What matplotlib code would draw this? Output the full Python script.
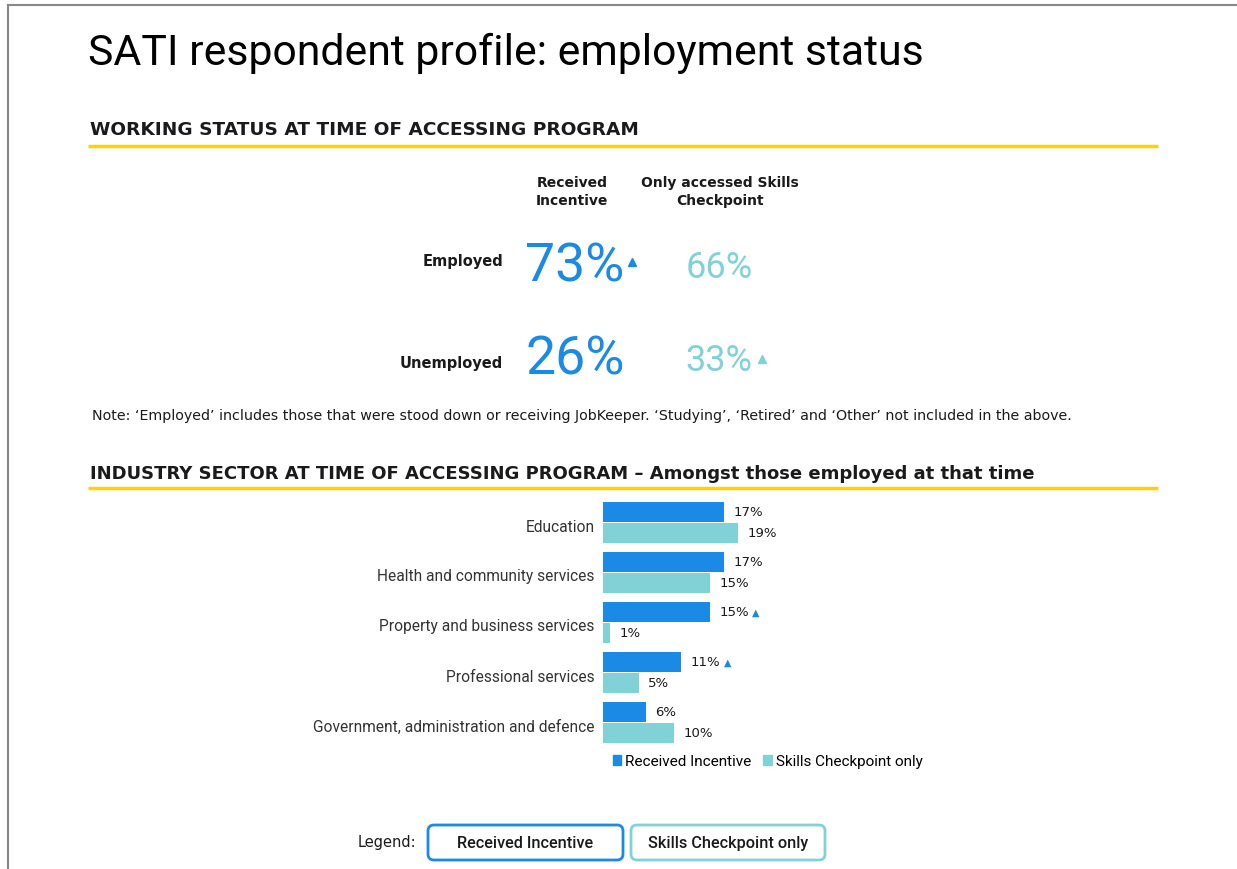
import matplotlib
matplotlib.use("Agg")
import matplotlib.pyplot as plt
from matplotlib.patches import FancyBboxPatch, Rectangle

plt.rcParams["font.family"] = ["Roboto", "DejaVu Sans"]

BLUE = "#1a8ae6"
TEAL = "#80d2d6"
YELLOW = "#ffd200"
INK = "#1a1a1a"
WIDE = ["DejaVu Sans"]

# working status panel
status_rows = ["Employed", "Unemployed"]
incentive_pct = [73, 26]
checkpoint_pct = [66, 33]
incentive_up = [True, False]
checkpoint_up = [False, True]

# industry sector panel
sectors = [
    "Education",
    "Health and community services",
    "Property and business services",
    "Professional services",
    "Government, administration and defence",
]
sector_incentive = [17, 17, 15, 11, 6]
sector_checkpoint = [19, 15, 1, 5, 10]
sector_incentive_up = [False, False, True, True, False]

W, H = 1237, 870
fig = plt.figure(figsize=(W / 100, H / 100), dpi=100)
fig.patch.set_facecolor("white")

# page overlay in pixel coordinates
page = fig.add_axes([0, 0, 1, 1])
page.set_xlim(0, W)
page.set_ylim(H, 0)
page.axis("off")

page.plot([8, W], [6, 6], color="#888888", lw=1.5)
page.plot([8, 8], [6, H], color="#888888", lw=1.5)

page.text(88, 53, "SATI respondent profile: employment status",
          fontsize=30.8, color="black", va="center", ha="left")

page.text(90, 130, "WORKING STATUS AT TIME OF ACCESSING PROGRAM", family=WIDE,
          fontsize=13.3, fontweight="bold", color=INK, va="center")
page.plot([88, 1158], [147, 147], color=YELLOW, lw=2.5, solid_capstyle="butt")

page.text(572, 192, "Received\nIncentive", family=WIDE, fontsize=10, fontweight="bold",
          color=INK, ha="center", va="center", linespacing=1.35)
page.text(720, 192, "Only accessed Skills\nCheckpoint", family=WIDE, fontsize=10,
          fontweight="bold", color=INK, ha="center", va="center", linespacing=1.35)

row_y = [264, 357]
label_y = [262, 364]
for label, inc, chk, inc_up, chk_up, y, ly in zip(status_rows, incentive_pct, checkpoint_pct,
                                                   incentive_up, checkpoint_up, row_y, label_y):
    page.text(503, ly, label, family=WIDE, fontsize=10.5, fontweight="bold", color=INK,
              ha="right", va="center")
    page.text(575, y + 3, f"{inc}%", fontsize=38.5, color=BLUE, ha="center", va="center")
    page.text(719, y + 4, f"{chk}%", fontsize=26, color=TEAL, ha="center", va="center")
    if inc_up:
        page.plot(632, y - 1, marker="^", color=BLUE, ms=5.5)
    if chk_up:
        page.plot(762, y + 3, marker="^", color=TEAL, ms=5.5)

page.text(92, 416, "Note: \u2018Employed\u2019 includes those that were stood down or receiving "
          "JobKeeper. \u2018Studying\u2019, \u2018Retired\u2019 and \u2018Other\u2019 not included in the above.",
          family=WIDE, fontsize=10.25, color=INK, va="center")

page.text(90, 474, "INDUSTRY SECTOR AT TIME OF ACCESSING PROGRAM \u2013 Amongst those employed at that time",
          family=WIDE, fontsize=13, fontweight="bold", color=INK, va="center")
page.plot([88, 1158], [489, 489], color=YELLOW, lw=2.5, solid_capstyle="butt")

# bottom legend buttons
page.text(416, 843, "Legend:", family=WIDE, fontsize=10.5, color=INK, ha="right", va="center")
for x0, w, label, edge in [(428, 195, "Received Incentive", BLUE),
                           (631, 194, "Skills Checkpoint only", TEAL)]:
    page.add_patch(FancyBboxPatch((x0, 826), w, 35, boxstyle="round,pad=0,rounding_size=6",
                                  fc="white", ec=edge, lw=2))
    page.text(x0 + w / 2, 844, label, fontsize=11.7, fontweight="medium", color=INK,
              ha="center", va="center")

# bar chart
ax = fig.add_axes([603 / W, 1 - 748 / H, 320 / W, 250 / H])
ax.set_xlim(0, 45)
ax.set_ylim(4.5, -0.5)
pos = list(range(len(sectors)))
off = 0.21
ax.barh([p - off for p in pos], sector_incentive, height=0.4, color=BLUE)
ax.barh([p + off for p in pos], sector_checkpoint, height=0.4, color=TEAL)
for p, v, up in zip(pos, sector_incentive, sector_incentive_up):
    ax.annotate(f"{v}%", (v, p - off), xytext=(7, 0), textcoords="offset points",
                family=WIDE, fontsize=9.5, color=INK, va="center")
    if up:
        ax.annotate("\u25b2", (v, p - off), xytext=(33.5, 0), textcoords="offset points",
                    family=WIDE, fontsize=7, color=BLUE, va="center", ha="center")
for p, v in zip(pos, sector_checkpoint):
    ax.annotate(f"{v}%", (v, p + off), xytext=(7, 0), textcoords="offset points",
                family=WIDE, fontsize=9.5, color=INK, va="center")

ax.set_yticks([p + 0.05 for p in pos])
ax.set_yticklabels(sectors, fontsize=11.2, color="#333333")
ax.tick_params(axis="y", length=0, pad=6)
ax.set_xticks([])
for s in ax.spines.values():
    s.set_visible(False)

handles = [Rectangle((0, 0), 1, 1, color=BLUE), Rectangle((0, 0), 1, 1, color=TEAL)]
ax.legend(handles, ["Received Incentive", "Skills Checkpoint only"], ncol=2,
          loc="upper left", bbox_to_anchor=(0.03, -0.03), frameon=False,
          fontsize=11, handlelength=0.55, handleheight=0.55, handletextpad=0.25,
          columnspacing=0.8, borderaxespad=0, borderpad=0)

fig.savefig("out.png", dpi=100)
